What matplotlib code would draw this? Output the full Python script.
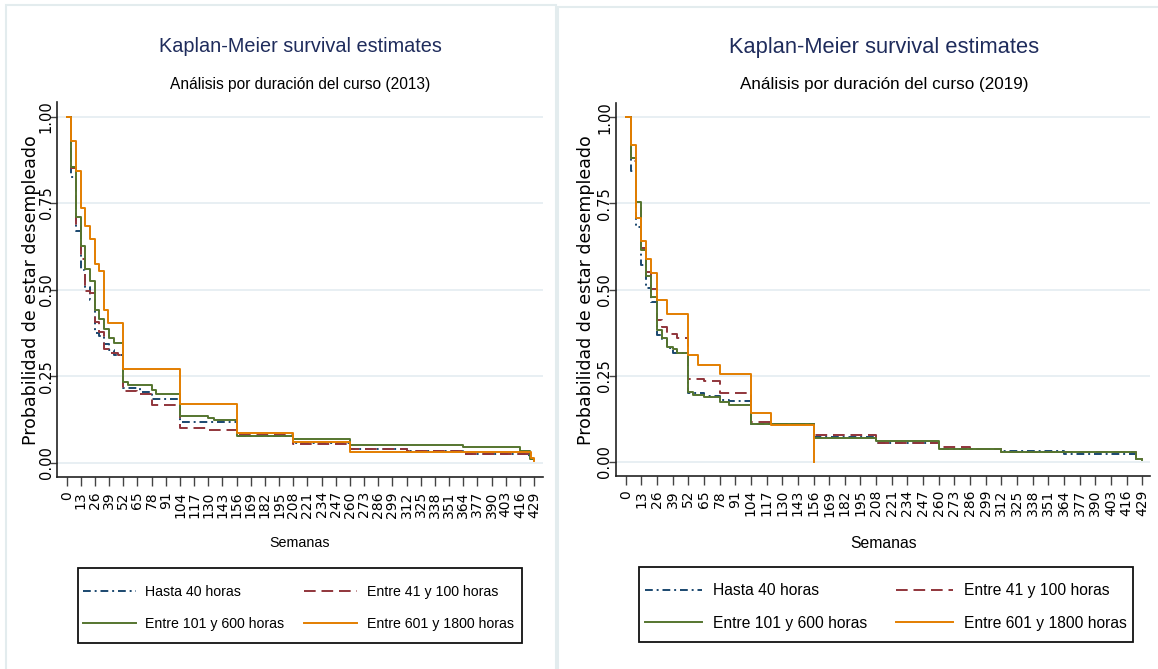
import numpy as np
import matplotlib
matplotlib.use("Agg")
import matplotlib.pyplot as plt
from matplotlib.patches import Rectangle
from matplotlib.lines import Line2D

# --- data (weeks, survival) ---
groups = ["Hasta 40 horas", "Entre 41 y 100 horas",
          "Entre 101 y 600 horas", "Entre 601 y 1800 horas"]

# 2013
t13_g1 = [0, 4, 8.5, 13, 17, 21, 26, 30, 34, 39, 43, 52, 67, 78, 104, 156, 208, 260, 312, 364, 424, 429]
s13_g1 = [1.0, 0.825, 0.67, 0.557, 0.509, 0.47, 0.376, 0.365, 0.343, 0.325, 0.31, 0.215, 0.205, 0.184,
          0.117, 0.078, 0.057, 0.041, 0.035, 0.025, 0.01, 0.005]
t13_g2 = [0, 4, 8.5, 13, 17, 21, 26, 30, 34, 39, 47, 52, 65, 78, 104, 130, 156, 208, 260, 312, 364, 424, 429]
s13_g2 = [1.0, 0.85, 0.69, 0.588, 0.495, 0.49, 0.407, 0.379, 0.328, 0.318, 0.31, 0.208, 0.2, 0.167,
          0.099, 0.095, 0.079, 0.054, 0.04, 0.034, 0.024, 0.01, 0.005]
t13_g3 = [0, 4, 8.5, 13, 17, 21, 26, 30, 34, 39, 43, 52, 56, 78, 82, 104, 130, 135, 156, 208, 260, 364,
          416, 425, 429]
s13_g3 = [1.0, 0.853, 0.711, 0.627, 0.56, 0.525, 0.44, 0.416, 0.385, 0.36, 0.345, 0.232, 0.224, 0.21,
          0.198, 0.136, 0.13, 0.123, 0.076, 0.068, 0.051, 0.046, 0.034, 0.012, 0.008]
t13_g4 = [0, 4, 8.5, 13, 17, 21, 26, 30, 34, 38, 52, 104, 156, 208, 260, 426, 429]
s13_g4 = [1.0, 0.93, 0.843, 0.735, 0.683, 0.645, 0.575, 0.555, 0.44, 0.405, 0.27, 0.171, 0.087, 0.059,
          0.03, 0.015, 0.005]

# 2019
t19_g1 = [0, 4, 8.3, 13, 17, 21, 26, 30, 34, 39, 52, 65, 78, 86, 104, 156, 208, 260, 312, 364, 424, 429]
s19_g1 = [1.0, 0.843, 0.683, 0.572, 0.504, 0.465, 0.368, 0.355, 0.33, 0.315, 0.2, 0.19, 0.18, 0.177,
          0.11, 0.07, 0.055, 0.036, 0.03, 0.021, 0.008, 0.005]
t19_g2 = [0, 4, 8.3, 13, 17, 21, 26, 30, 34, 43, 52, 65, 78, 104, 121, 156, 208, 260, 286, 312, 424, 429]
s19_g2 = [1.0, 0.874, 0.739, 0.62, 0.55, 0.502, 0.412, 0.39, 0.371, 0.359, 0.24, 0.235, 0.199, 0.116,
          0.11, 0.078, 0.055, 0.041, 0.036, 0.029, 0.01, 0.005]
t19_g3 = [0, 4, 8.3, 13, 17, 21, 26, 30, 34, 39, 43, 52, 56, 65, 78, 86, 104, 156, 208, 260, 312, 424, 429]
s19_g3 = [1.0, 0.882, 0.753, 0.615, 0.54, 0.477, 0.383, 0.359, 0.334, 0.326, 0.315, 0.203, 0.194, 0.187,
          0.174, 0.165, 0.108, 0.068, 0.061, 0.036, 0.028, 0.008, 0.005]
t19_g4 = [0, 4, 8.3, 12.7, 17, 21.3, 26, 34, 52, 60, 78, 104, 121, 156]
s19_g4 = [1.0, 0.921, 0.709, 0.64, 0.588, 0.549, 0.47, 0.429, 0.31, 0.282, 0.254, 0.142, 0.107, 0.0]

week_ticks = list(range(0, 430, 13))
prob_ticks = [0.0, 0.25, 0.5, 0.75, 1.0]

colors = ["#1A476F", "#90353B", "#55752F", "#E37E00"]
styles = [(0, (4, 2, 1, 2)), (0, (6, 3)), "-", "-"]

sans = ["Liberation Sans", "DejaVu Sans"]
W, H = 1158, 669


def fx(px):
    return px / W


def fy(py):
    return 1 - py / H


fig = plt.figure(figsize=(W / 100, H / 100), dpi=100)
fig.patch.set_facecolor("white")

# light frames around each Stata graph
fig.patches.append(Rectangle((fx(6), fy(700)), fx(556 - 6), (700 - 4.5) / H, transform=fig.transFigure,
                             fill=False, edgecolor="#E3ECEE", lw=1.5))
fig.patches.append(Rectangle((fx(558), fy(700)), fx(1170 - 558), (700 - 6.5) / H, transform=fig.transFigure,
                             fill=False, edgecolor="#E3ECEE", lw=1.5))


def panel(box, curves, year, cx, ylab_x, leg_box, scale, colsp, labsp):
    ax = fig.add_axes(box)
    for i, (t, s) in enumerate(curves):
        ax.step(t, s, where="post", color=colors[i], linestyle=styles[i], lw=1.4, zorder=3)
    ax.set_xticks(week_ticks)
    ax.set_xticklabels([str(w) for w in week_ticks], rotation=90, fontsize=10, family="DejaVu Sans")
    ax.set_yticks(prob_ticks)
    ax.set_yticklabels(["%.2f" % p for p in prob_ticks], rotation=90, va="center",
                       fontsize=10.5, family="DejaVu Sans")
    ax.tick_params(axis="x", length=6.5, width=1, pad=3.5, color="#444444")
    ax.tick_params(axis="y", length=5, width=1, pad=-2.5, color="#444444")
    ax.grid(axis="y", color="#E6EEF2", lw=1.3, zorder=0)
    ax.set_axisbelow(True)
    for side in ["top", "right"]:
        ax.spines[side].set_visible(False)
    for side in ["left", "bottom"]:
        ax.spines[side].set_linewidth(1.2)
        ax.spines[side].set_color("#222222")
    ax.set_ylim(-0.042, 1.042)

    fig.text(fx(cx), fy(47), "Kaplan-Meier survival estimates", ha="center", va="center",
             fontsize=14.3 * scale, color="#1F2C5C", family=sans)
    fig.text(fx(cx), fy(85), "Análisis por duración del curso (%d)" % year, ha="center", va="center",
             fontsize=11.2 * scale, color="black", family=sans)
    fig.text(fx(cx), fy(543), "Semanas", ha="center", va="center", fontsize=10.3 * scale, family=sans)
    fig.text(fx(ylab_x), fy(290), "Probabilidad de estar desempleado", rotation=90, ha="center",
             va="center", fontsize=12.5, family="DejaVu Sans")

    # legend box
    x0, x1, y0, y1 = leg_box
    fig.patches.append(Rectangle((fx(x0), fy(y1)), fx(x1 - x0), (y1 - y0) / H, transform=fig.transFigure,
                                 fill=False, edgecolor="#111111", lw=1.3))
    handles = [Line2D([], [], color=colors[i], linestyle=styles[i], lw=1.4) for i in range(4)]
    order = [0, 2, 1, 3]  # row-wise like Stata
    fs = 10.2 * scale
    fig.legend([handles[i] for i in order], [groups[i] for i in order], loc="center left",
               bbox_to_anchor=(fx(x0 - 2), fy((y0 + y1) / 2 + 2.5)),
               ncol=2, frameon=False, borderpad=0, handlelength=3.7, handletextpad=0.7,
               columnspacing=colsp, labelspacing=labsp, prop={"family": sans, "size": fs})
    return ax


ax_l = panel([fx(57.3), fy(477.3), fx(542.7 - 57.3), (477.3 - 102) / H],
             [(t13_g1, s13_g1), (t13_g2, s13_g2), (t13_g3, s13_g3), (t13_g4, s13_g4)],
             2013, 300, 31, (78, 522, 568, 643), 1.0, 1.4, 1.3)
ax_l.set_xlim(-8.6, 437)

ax_r = panel([fx(615.7), fy(476), fx(1150 - 615.7), (476 - 103) / H],
             [(t19_g1, s19_g1), (t19_g2, s19_g2), (t19_g3, s19_g3), (t19_g4, s19_g4)],
             2019, 884, 586, (639, 1133, 567, 642), 1.1, 1.8, 1.1)
ax_r.set_xlim(-8.3, 435.5)

fig.savefig("out.png", dpi=100, facecolor="white")
